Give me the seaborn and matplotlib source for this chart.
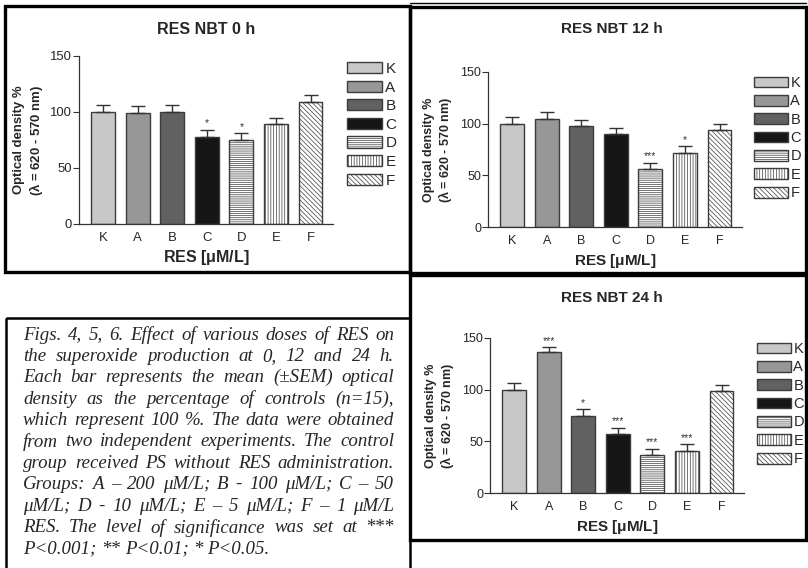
import numpy as np
import pandas as pd
import seaborn as sns
import matplotlib.pyplot as plt
from matplotlib.patches import Patch, Rectangle

# data
GROUPS = ["K", "A", "B", "C", "D", "E", "F"]
TITLES = ["RES NBT 0 h", "RES NBT 12 h", "RES NBT 24 h"]

OD_0H = [100, 99, 100, 78, 75, 89, 109]
SEM_0H = [6, 6, 6, 6, 6, 6, 6]
SIG_0H = ["", "", "", "*", "*", "", ""]

OD_12H = [100, 105, 98, 90, 56, 72, 94]
SEM_12H = [6, 6, 6, 6, 6, 6, 6]
SIG_12H = ["", "", "", "", "***", "*", ""]

OD_24H = [100, 136, 75, 57, 37, 41, 99]
SEM_24H = [6, 5, 6, 6, 6, 6, 6]
SIG_24H = ["", "***", "*", "***", "***", "***", ""]

FILLS = ["#c8c8c8", "#979797", "#616161", "#161616", "white", "white", "white"]
HATCHES = ["", "", "", "", "--------", "||||||", "\\\\\\\\\\\\\\"]

CAPTION = [
    "Figs. 4, 5, 6. Effect of various doses of  RES on",
    "the superoxide production at 0, 12 and 24 h.",
    "Each bar represents the mean (\u00b1SEM) optical",
    "density as the percentage of controls (n=15),",
    "which represent 100 %. The data were obtained",
    "from two independent experiments. The control",
    "group received PS without RES administration.",
    "Groups: A \u2013 200 \u03bcM/L; B - 100 \u03bcM/L; C \u2013 50",
    "\u03bcM/L; D - 10 \u03bcM/L; E \u2013 5 \u03bcM/L; F \u2013 1 \u03bcM/L",
    "RES.  The level of significance was set at ***",
    "P<0.001; ** P<0.01; * P<0.05.",
]

sns.set_theme(style="ticks")
plt.rcParams['font.family'] = ['Liberation Sans', 'DejaVu Sans']
plt.rcParams['hatch.linewidth'] = 0.5
plt.rcParams['mathtext.default'] = 'regular'

W, H = 808, 568
fig = plt.figure(figsize=(W / 100, H / 100), dpi=100)

# background axes in pixel coordinates for frames, titles and the caption
bg = fig.add_axes([0, 0, 1, 1])
bg.set_xlim(0, W)
bg.set_ylim(H, 0)
bg.axis('off')


def px_rect(x0, x1, ytop, ybot):
    return [x0 / W, 1 - ybot / H, (x1 - x0) / W, (ybot - ytop) / H]


def frame(x0, y0, x1, y1, lw):
    bg.add_patch(Rectangle((x0, y0), x1 - x0, y1 - y0, fill=False,
                           edgecolor='black', linewidth=lw, clip_on=False))


def draw_panel(rect, vals, errs, sig, title, title_xy, legend_xy, fs_scale=1.0):
    ax = fig.add_axes(rect)
    df = pd.DataFrame({"group": GROUPS, "od": vals})
    sns.barplot(data=df, x="group", y="od", hue="group", order=GROUPS,
                hue_order=GROUPS, palette=FILLS, legend=False, width=0.69,
                edgecolor="#3c3c3c", linewidth=1.0, ax=ax)
    bars = sorted(ax.patches, key=lambda p: p.get_x())
    for bar, h in zip(bars, HATCHES):
        bar.set_hatch(h)
    x = np.arange(len(GROUPS))
    ax.errorbar(x, vals, yerr=[np.zeros(len(errs)), errs], fmt='none',
                ecolor="#333333", elinewidth=1.0, capsize=5, capthick=1.0, zorder=3)
    for i, s in enumerate(sig):
        if s:
            ax.text(i, vals[i] + errs[i] + 1.5, s, ha='center', va='bottom',
                    fontsize=7.5, color="#333333")
    ax.set_ylim(0, 150)
    ax.set_xlim(-0.7, 6.65)
    ax.set_yticks([0, 50, 100, 150])
    ax.tick_params(axis='y', length=4, width=0.8, labelsize=9 * fs_scale, pad=1, color="#333333")
    ax.tick_params(axis='x', length=0, labelsize=9 * fs_scale, pad=6)
    sns.despine(ax=ax)
    for sp in ("left", "bottom"):
        ax.spines[sp].set_linewidth(0.9)
        ax.spines[sp].set_color("#333333")
    ax.set_xlabel("RES [$\\mu$M/L]", fontsize=11 * fs_scale, fontweight='bold', labelpad=3)
    ax.set_ylabel("Optical density %\n($\\lambda$ = 620 - 570 nm)", fontsize=9 * fs_scale,
                  fontweight='bold', labelpad=4, linespacing=1.15)
    bg.text(title_xy[0], title_xy[1], title, ha='center', va='center',
            fontsize=11 * fs_scale, fontweight='bold')
    handles = [Patch(facecolor=c, edgecolor="#3c3c3c", hatch=h, linewidth=1.0)
               for c, h in zip(FILLS, HATCHES)]
    ax.legend(handles, GROUPS, loc='upper left',
              bbox_to_anchor=(legend_xy[0] / W, 1 - legend_xy[1] / H),
              bbox_transform=fig.transFigure, frameon=False, fontsize=10.5 * fs_scale,
              handlelength=2.3, handleheight=0.75, handletextpad=0.2,
              labelspacing=0.3, borderpad=0, borderaxespad=0)
    return ax


draw_panel(px_rect(79, 333, 56, 224), OD_0H, SEM_0H, SIG_0H, TITLES[0], (206, 30), (347, 62), 1.05)
draw_panel(px_rect(488, 742, 72, 227), OD_12H, SEM_12H, SIG_12H, TITLES[1], (612, 29), (754, 76))
draw_panel(px_rect(490, 744, 338, 493), OD_24H, SEM_24H, SIG_24H, TITLES[2], (612, 298), (757, 342))

# panel frames
frame(5, 6, 410, 272, 2.4)
frame(410, 7, 806, 273, 2.4)
bg.plot([410, 806], [3, 3], color='black', linewidth=1.0, clip_on=False)
frame(410, 275, 806, 540, 2.4)
frame(6, 318, 410, 580, 1.8)

# justified italic caption
fig.canvas.draw()
renderer = fig.canvas.get_renderer()
left, right = 23, 394
y0, pitch = 333, 21.4
cap_kw = dict(fontsize=13.6, fontstyle='italic',
              family=['Liberation Serif', 'DejaVu Serif'], va='center_baseline', ha='left')


def text_width(s, y):
    t = bg.text(0, y, s, **cap_kw)
    w = t.get_window_extent(renderer).width
    t.remove()
    return w


space_px = text_width("a a", y0) - text_width("aa", y0)
for k, line in enumerate(CAPTION):
    y = y0 + k * pitch
    words = line.split()
    texts = [bg.text(0, y, w, **cap_kw) for w in words]
    widths = [t.get_window_extent(renderer).width for t in texts]
    if k < len(CAPTION) - 1 and len(words) > 1:
        gap = (right - left - sum(widths)) / (len(words) - 1)
    else:
        gap = space_px
    xpos = left
    for t, w in zip(texts, widths):
        t.set_x(xpos)
        xpos += w + gap

fig.savefig("out.png", dpi=100)
